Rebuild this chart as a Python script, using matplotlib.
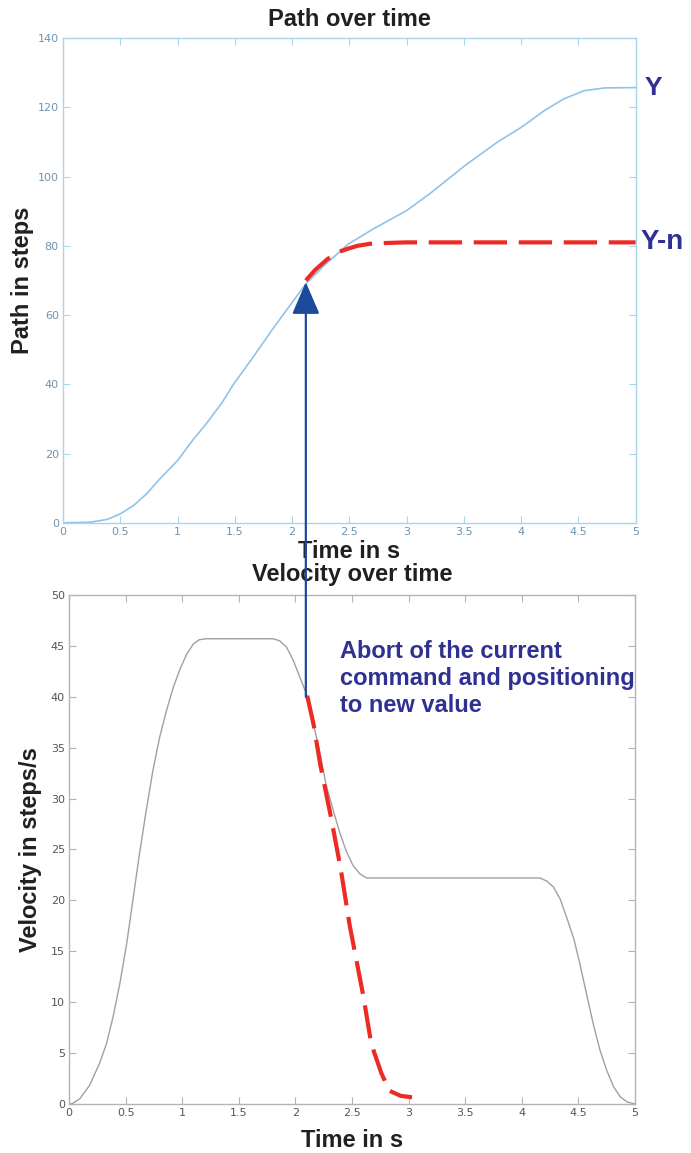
import matplotlib
matplotlib.use("Agg")
import matplotlib.pyplot as plt
from matplotlib.patches import ConnectionPatch
from matplotlib.transforms import blended_transform_factory

# path over time (blue) and aborted path (red)
path_t = [0, 0.24, 0.385, 0.5, 0.615, 0.73, 0.845, 1.0, 1.13, 1.25, 1.39, 1.49,
          1.65, 1.82, 1.99, 2.12, 2.28, 2.49, 2.71, 3.0, 3.2, 3.51, 3.79, 4.0,
          4.2, 4.37, 4.55, 4.73, 5.0]
path_y = [0, 0.2, 1.0, 2.6, 5.0, 8.4, 12.7, 18.0, 23.8, 28.6, 34.8, 40.1,
          47.4, 55.5, 63.2, 69.0, 74.3, 80.5, 84.9, 90.2, 95.0, 103.2, 109.9, 114.2,
          119.0, 122.4, 124.8, 125.6, 125.7]

abort_path_t = [2.12, 2.2, 2.31, 2.41, 2.5, 2.57, 2.68, 2.8, 3.0, 3.5, 4.0, 4.5, 5.0]
abort_path_y = [70.0, 73.0, 76.2, 78.3, 79.3, 80.0, 80.6, 80.8, 81.0, 81.0, 81.0, 81.0, 81.0]

# velocity over time (gray) and aborted velocity (red)
vel_t = [0, 0.03, 0.094, 0.18, 0.27, 0.33, 0.39, 0.45, 0.51, 0.565, 0.62, 0.68,
         0.74, 0.80, 0.86, 0.92, 0.98, 1.04, 1.1, 1.15, 1.21, 1.5, 1.80, 1.86,
         1.92, 1.98, 2.04, 2.10, 2.16, 2.22, 2.27, 2.33, 2.39, 2.45, 2.51, 2.57,
         2.63, 3.0, 3.5, 4.16, 4.22, 4.28, 4.34, 4.40, 4.46, 4.51, 4.57, 4.63,
         4.69, 4.75, 4.81, 4.87, 4.93, 5.0]
vel_v = [0, 0.05, 0.5, 1.8, 4.0, 5.9, 8.6, 11.9, 15.8, 20.1, 24.4, 28.7,
         32.7, 36.0, 38.6, 40.9, 42.7, 44.2, 45.2, 45.6, 45.7, 45.7, 45.7, 45.5,
         44.9, 43.6, 41.9, 40.2, 37.3, 34.3, 31.4, 29.0, 26.7, 24.8, 23.4, 22.6,
         22.2, 22.2, 22.2, 22.2, 21.9, 21.3, 20.1, 18.2, 16.2, 13.9, 10.9, 7.9,
         5.3, 3.3, 1.7, 0.7, 0.2, 0]

abort_vel_t = [2.104, 2.16, 2.22, 2.31, 2.4, 2.48, 2.6, 2.67, 2.76, 2.83, 2.93, 3.03]
abort_vel_v = [40.1, 37.3, 33.3, 28.4, 23.1, 17.5, 10.6, 5.9, 3.0, 1.3, 0.8, 0.66]

abort_t = 2.12
abort_top = 69.5
abort_bottom = 40.0

x_ticks = [0, 0.5, 1, 1.5, 2, 2.5, 3, 3.5, 4, 4.5, 5]
x_labels = ["0", "0.5", "1", "1.5", "2", "2.5", "3", "3.5", "4", "4.5", "5"]
path_ticks = list(range(0, 141, 20))
vel_ticks = list(range(0, 51, 5))

RED = "#ee2a24"
NAVY = "#2e3192"
ARROW = "#1c4a9c"
DARK = "#231f20"
LABEL_FONT = ["Liberation Sans", "DejaVu Sans"]

fig = plt.figure(figsize=(6.91, 11.53), dpi=100)
ax1 = fig.add_axes([0.0912, 0.5465, 0.8288, 0.4205])
ax2 = fig.add_axes([0.0999, 0.0425, 0.8191, 0.4415])


def style_axes(ax, spine_color, label_color):
    for s in ax.spines.values():
        s.set_color(spine_color)
        s.set_linewidth(1.0)
    ax.tick_params(direction="in", length=5, width=0.8, color=spine_color,
                   labelcolor=label_color, labelsize=8, top=True, right=True,
                   pad=3)
    ax.set_xlim(0, 5)
    ax.set_xticks(x_ticks)
    ax.set_xticklabels(x_labels)


# top panel
ax1.plot(path_t, path_y, color="#8ec3ea", lw=1.2)
ax1.plot(abort_path_t, abort_path_y, color=RED, lw=3.0, dashes=(8, 2.8),
         dash_capstyle="butt")
style_axes(ax1, "#a9d4ec", "#6f93ad")
ax1.set_ylim(0, 140)
ax1.set_yticks(path_ticks)
ax1.set_title("Path over time", fontsize=17, fontweight="bold",
              family=LABEL_FONT, color=DARK, pad=9)
ax1.set_xlabel("Time in s", fontsize=17, fontweight="bold", family=LABEL_FONT,
               color=DARK, labelpad=2)
ax1.set_ylabel("Path in steps", fontsize=17, fontweight="bold",
               family=LABEL_FONT, color=DARK, labelpad=3)
ax1.text(5.08, 125.7, "Y", color=NAVY, fontsize=19, fontweight="bold",
         family="Liberation Sans", va="center", ha="left")
ax1.text(5.04, 81.0, "Y-n", color=NAVY, fontsize=20, fontweight="bold",
         family="Liberation Sans", va="center", ha="left")

# bottom panel
ax2.plot(vel_t, vel_v, color="#a0a0a0", lw=1.0)
ax2.plot(abort_vel_t, abort_vel_v, color=RED, lw=3.0, dashes=(8, 2.8),
         dash_capstyle="butt")
style_axes(ax2, "#b4b4b4", "#555555")
ax2.set_ylim(0, 50)
ax2.set_yticks(vel_ticks)
ax2.set_title("Velocity over time", fontsize=17, fontweight="bold",
              family=LABEL_FONT, color=DARK, pad=10)
ax2.set_xlabel("Time in s", fontsize=17, fontweight="bold", family=LABEL_FONT,
               color=DARK, labelpad=8)
ax2.set_ylabel("Velocity in steps/s", fontsize=17, fontweight="bold",
               family=LABEL_FONT, color=DARK, labelpad=6)
ax2.text(2.39, 41.8, "Abort of the current\ncommand and positioning\nto new value",
         color=NAVY, fontsize=17, fontweight="bold", family="Liberation Sans",
         va="center", ha="left", linespacing=1.22)

# vertical arrow from the abort point in the velocity plot up to the path
bottom_tr = blended_transform_factory(ax1.transData, ax2.transData)
arrow = ConnectionPatch(xyA=(abort_t, abort_bottom), coordsA=bottom_tr,
                        xyB=(abort_t, abort_top), coordsB=ax1.transData,
                        arrowstyle="-|>,head_length=1.0,head_width=0.43",
                        mutation_scale=20, shrinkA=0, shrinkB=0,
                        color=ARROW, lw=1.6)
fig.add_artist(arrow)

fig.savefig("out.png", dpi=100)
